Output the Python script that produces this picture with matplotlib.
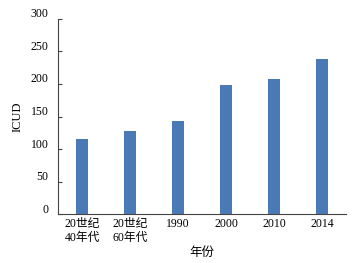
import matplotlib
matplotlib.use("Agg")
import matplotlib.pyplot as plt
import matplotlib.transforms as mtransforms

plt.rcParams['font.family'] = ['Liberation Serif', 'Noto Sans CJK SC']

categories = ["20世纪\n40年代", "20世纪\n60年代", "1990", "2000", "2010", "2014"]
icud = [115, 128, 143, 198, 207, 238]
yticks = [0, 50, 100, 150, 200, 250, 300]

fig = plt.figure(figsize=(3.52, 2.63), dpi=100)
ax = fig.add_axes([0.165, 0.186, 0.818, 0.742])

x = range(len(categories))
ax.bar(x, icud, width=0.25, color="#4a7ab5")

ax.set_xlim(-0.5, len(categories) - 0.5)
ax.set_ylim(0, 300)
ax.set_yticks(yticks)
ax.set_xticks(list(x))
ax.set_xticklabels(categories, fontsize=8.5, linespacing=1.2)
ax.tick_params(axis="x", length=0, pad=3)
ax.tick_params(axis="y", direction="in", length=3, labelsize=8.5, pad=7, color="#444444")

# tick labels sit a little above their ticks in the original
offset = mtransforms.ScaledTranslation(0, 6 / 100, fig.dpi_scale_trans)
for lab in ax.get_yticklabels():
    lab.set_transform(lab.get_transform() + offset)

for s in ["top", "right"]:
    ax.spines[s].set_visible(False)
for s in ["left", "bottom"]:
    ax.spines[s].set_color("#444444")
    ax.spines[s].set_linewidth(0.8)

ax.set_ylabel("ICUD", fontsize=9, labelpad=5)
ax.set_xlabel("年份", fontsize=9, labelpad=2)

fig.savefig("out.png", dpi=100)
